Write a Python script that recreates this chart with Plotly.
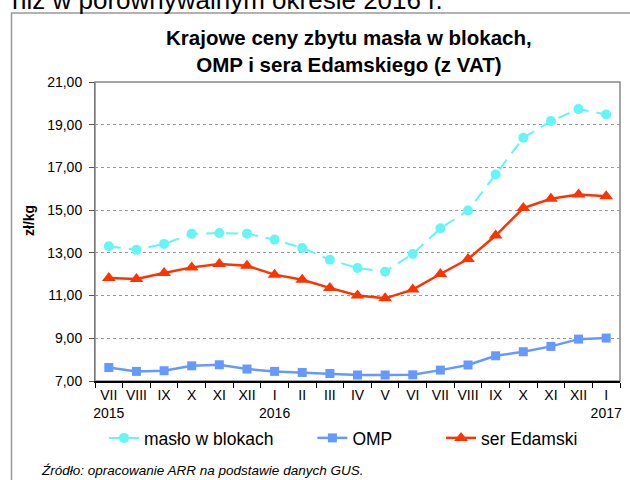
import plotly.graph_objects as go

months = ["VII<br>2015", "VIII", "IX", "X", "XI", "XII", "I<br>2016", "II", "III", "IV",
          "V", "VI", "VII", "VIII", "IX", "X", "XI", "XII", "I<br>2017"]
cat_keys = [f"m{i}" for i in range(len(months))]

maslo = [13.31, 13.14, 13.42, 13.89, 13.93, 13.90, 13.62, 13.23, 12.68, 12.29,
         12.12, 12.95, 14.15, 14.98, 16.67, 18.39, 19.17, 19.73, 19.48]
omp = [7.63, 7.45, 7.48, 7.71, 7.76, 7.56, 7.45, 7.40, 7.35, 7.28,
       7.28, 7.29, 7.51, 7.75, 8.18, 8.37, 8.62, 8.96, 9.01]
ser = [11.82, 11.78, 12.06, 12.32, 12.48, 12.40, 11.98, 11.74, 11.36, 11.00,
       10.87, 11.28, 12.01, 12.71, 13.81, 15.10, 15.53, 15.73, 15.65]

y_ticks = [7, 9, 11, 13, 15, 17, 19, 21]

FONT = "Liberation Sans, Arial, sans-serif"

fig = go.Figure()
fig.add_trace(go.Scatter(x=cat_keys, y=maslo, name="masło w blokach" + "\u00a0" * 7,
                         mode="lines+markers",
                         line=dict(color="#66F5F5", width=2, dash="12px,8px"),
                         marker=dict(symbol="circle", size=10, color="#66F5F5")))
fig.add_trace(go.Scatter(x=cat_keys, y=omp, name="OMP" + "\u00a0" * 9, mode="lines+markers",
                         line=dict(color="#6699FF", width=2.5),
                         marker=dict(symbol="square", size=9, color="#6699FF")))
fig.add_trace(go.Scatter(x=cat_keys, y=ser, name="ser Edamski", mode="lines+markers",
                         line=dict(color="#FF3300", width=2.5),
                         marker=dict(symbol="triangle-up", size=12, color="#FF3300")))

L, R, T, B = 95, 10, 82, 99
W, H = 630, 480
pw, ph = W - L - R, H - T - B

def px(x):
    return (x - L) / pw

def py(y):
    return (H - B - y) / ph

fig.update_layout(
    width=W, height=H,
    margin=dict(l=L, r=R, t=T, b=B, pad=0, autoexpand=False),
    paper_bgcolor="white", plot_bgcolor="white",
    separators=", ",
    font=dict(family=FONT, size=14, color="#000"),
    showlegend=True,
    legend=dict(orientation="h", xref="container", yref="container",
                x=104 / W, xanchor="left", y=(H - 438) / H, yanchor="middle",
                font=dict(size=17.5, family=FONT), tracegroupgap=0,
                bgcolor="rgba(0,0,0,0)"),
    xaxis=dict(type="category", categoryorder="array", categoryarray=cat_keys,
               tickmode="array", tickvals=cat_keys, ticktext=months, tickangle=0,
               ticks="outside", tickson="boundaries", ticklen=5, tickcolor="#000",
               showline=True, linecolor="#000", linewidth=1.5, showgrid=False,
               tickfont=dict(size=14, family=FONT), range=[-0.5, len(cat_keys) - 0.5],
               zeroline=False, automargin=False),
    yaxis=dict(range=[7, 21], tickvals=y_ticks, tickformat=".2f",
               ticks="outside", ticklen=5, tickcolor="#555", ticklabelstandoff=4,
               showline=True, linecolor="#777", linewidth=1,
               showgrid=True, gridcolor="#999", griddash="dot", gridwidth=1,
               tickfont=dict(size=14, family=FONT), zeroline=False, automargin=False),
    shapes=[
        dict(type="rect", xref="paper", yref="paper", x0=0, x1=1, y0=0, y1=1,
             line=dict(color="#888", width=1.5), layer="below"),
        dict(type="rect", xref="paper", yref="paper", x0=px(11.5), x1=px(640), y0=py(13), y1=py(500),
             line=dict(color="#999", width=1.5), layer="below"),
    ],
    annotations=[
        dict(text="niż w porównywalnym okresie 2016 r.", xref="paper", yref="paper",
             x=px(10), xanchor="left", y=py(17), yanchor="bottom", showarrow=False,
             font=dict(size=26, family=FONT, color="#000")),
        dict(text="<b>Krajowe ceny zbytu masła w blokach,<br>OMP i sera Edamskiego (z VAT)</b>",
             xref="paper", yref="paper", x=px(349), xanchor="center", y=py(51), yanchor="middle",
             showarrow=False, font=dict(size=20.5, family=FONT, color="#000")),
        dict(text="<b>zł/kg</b>", xref="paper", yref="paper", x=px(29), xanchor="center",
             y=py(221), yanchor="middle", textangle=-90, showarrow=False,
             font=dict(size=14, family=FONT, color="#000")),
        dict(text="<i>Źródło: opracowanie ARR na podstawie danych GUS.</i>",
             xref="paper", yref="paper", x=px(39), xanchor="left", y=py(470), yanchor="middle",
             showarrow=False, font=dict(size=13.5, family=FONT, color="#000")),
    ],
)

fig.write_html("out.html", config={"displayModeBar": False},
               post_script="document.body.style.margin='0px';document.body.style.overflow='hidden';")
